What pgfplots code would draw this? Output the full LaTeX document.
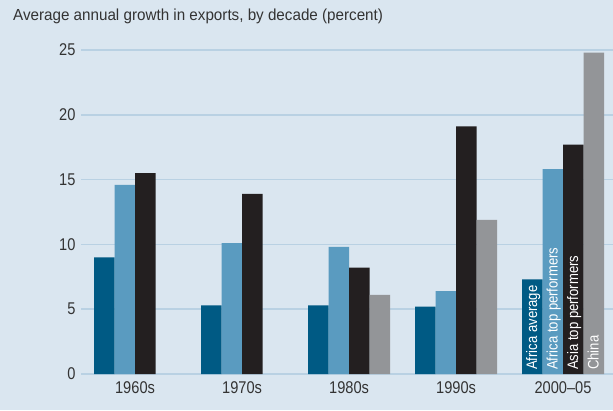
\documentclass[border=0pt]{standalone}
\usepackage{fontspec}
\setmainfont{Liberation Sans}[FakeStretch=0.86]
\newfontfamily\titlefont{Liberation Sans}[FakeStretch=0.95]
\usepackage{pgfplots}
\pgfplotsset{compat=1.18}
\definecolor{bg}{HTML}{DAE6F0}
\definecolor{gridc}{HTML}{B9D1E3}
\definecolor{cA}{HTML}{005A84}
\definecolor{cB}{HTML}{5A9BC0}
\definecolor{cC}{HTML}{231F20}
\definecolor{cD}{HTML}{939598}
\definecolor{txt}{HTML}{333333}
\begin{document}
\begin{tikzpicture}[x=1bp,y=1bp,
  lbl/.style={rotate=90, anchor=west, text=white, font=\fontsize{15.2bp}{17bp}\selectfont, inner sep=0}]
\fill[bg] (0,0) rectangle (613,410);
\useasboundingbox (0,0) rectangle (613,410);
\node[anchor=base west, text=txt, font=\titlefont\fontsize{16bp}{18bp}\selectfont, inner sep=0] at (13,389) {Average annual growth in exports, by decade (percent)};
\begin{axis}[
  at={(81bp,36bp)}, anchor=south west,
  scale only axis, width=532bp, height=324bp,
  xmin=-0.505, xmax=4.467, ymin=0, ymax=25,
  axis line style={draw=none},
  ytick={0,5,...,25},
  xtick={0,1,2,3,4},
  xticklabels={1960s,1970s,1980s,1990s,2000--05},
  major tick length=0pt,
  xmajorgrids=false,
  ymajorgrids=true,
  grid style={draw=gridc, line width=1.6bp},
  ticklabel style={text=txt, font=\fontsize{17bp}{19bp}\selectfont},
  /pgf/number format/assume math mode=true,
  yticklabel style={xshift=-2bp},
  xticklabel style={yshift=-4bp},
  ybar=0pt, bar width=0.1916,
  clip=false,
]
\addplot[fill=cA, draw=none] coordinates {(0,9.0) (1,5.3) (2,5.3) (3,5.2) (4,7.3)};
\addplot[fill=cB, draw=none] coordinates {(0,14.6) (1,10.1) (2,9.8) (3,6.4) (4,15.8)};
\addplot[fill=cC, draw=none] coordinates {(0,15.5) (1,13.9) (2,8.2) (3,19.1) (4,17.7)};
\addplot[fill=cD, draw=none] coordinates {(2,6.1) (3,11.9) (4,24.8)};
\node[lbl, anchor=base west] at ([xshift=-26bp, yshift=4bp]axis cs:4,0) {Africa average};
\node[lbl, anchor=base west] at ([xshift=-5.5bp, yshift=4bp]axis cs:4,0) {Africa top performers};
\node[lbl, anchor=base west] at ([xshift=15bp, yshift=4bp]axis cs:4,0) {Asia top performers};
\node[lbl, anchor=base west] at ([xshift=35.5bp, yshift=4bp]axis cs:4,0) {China};
\end{axis}
\end{tikzpicture}
\end{document}
